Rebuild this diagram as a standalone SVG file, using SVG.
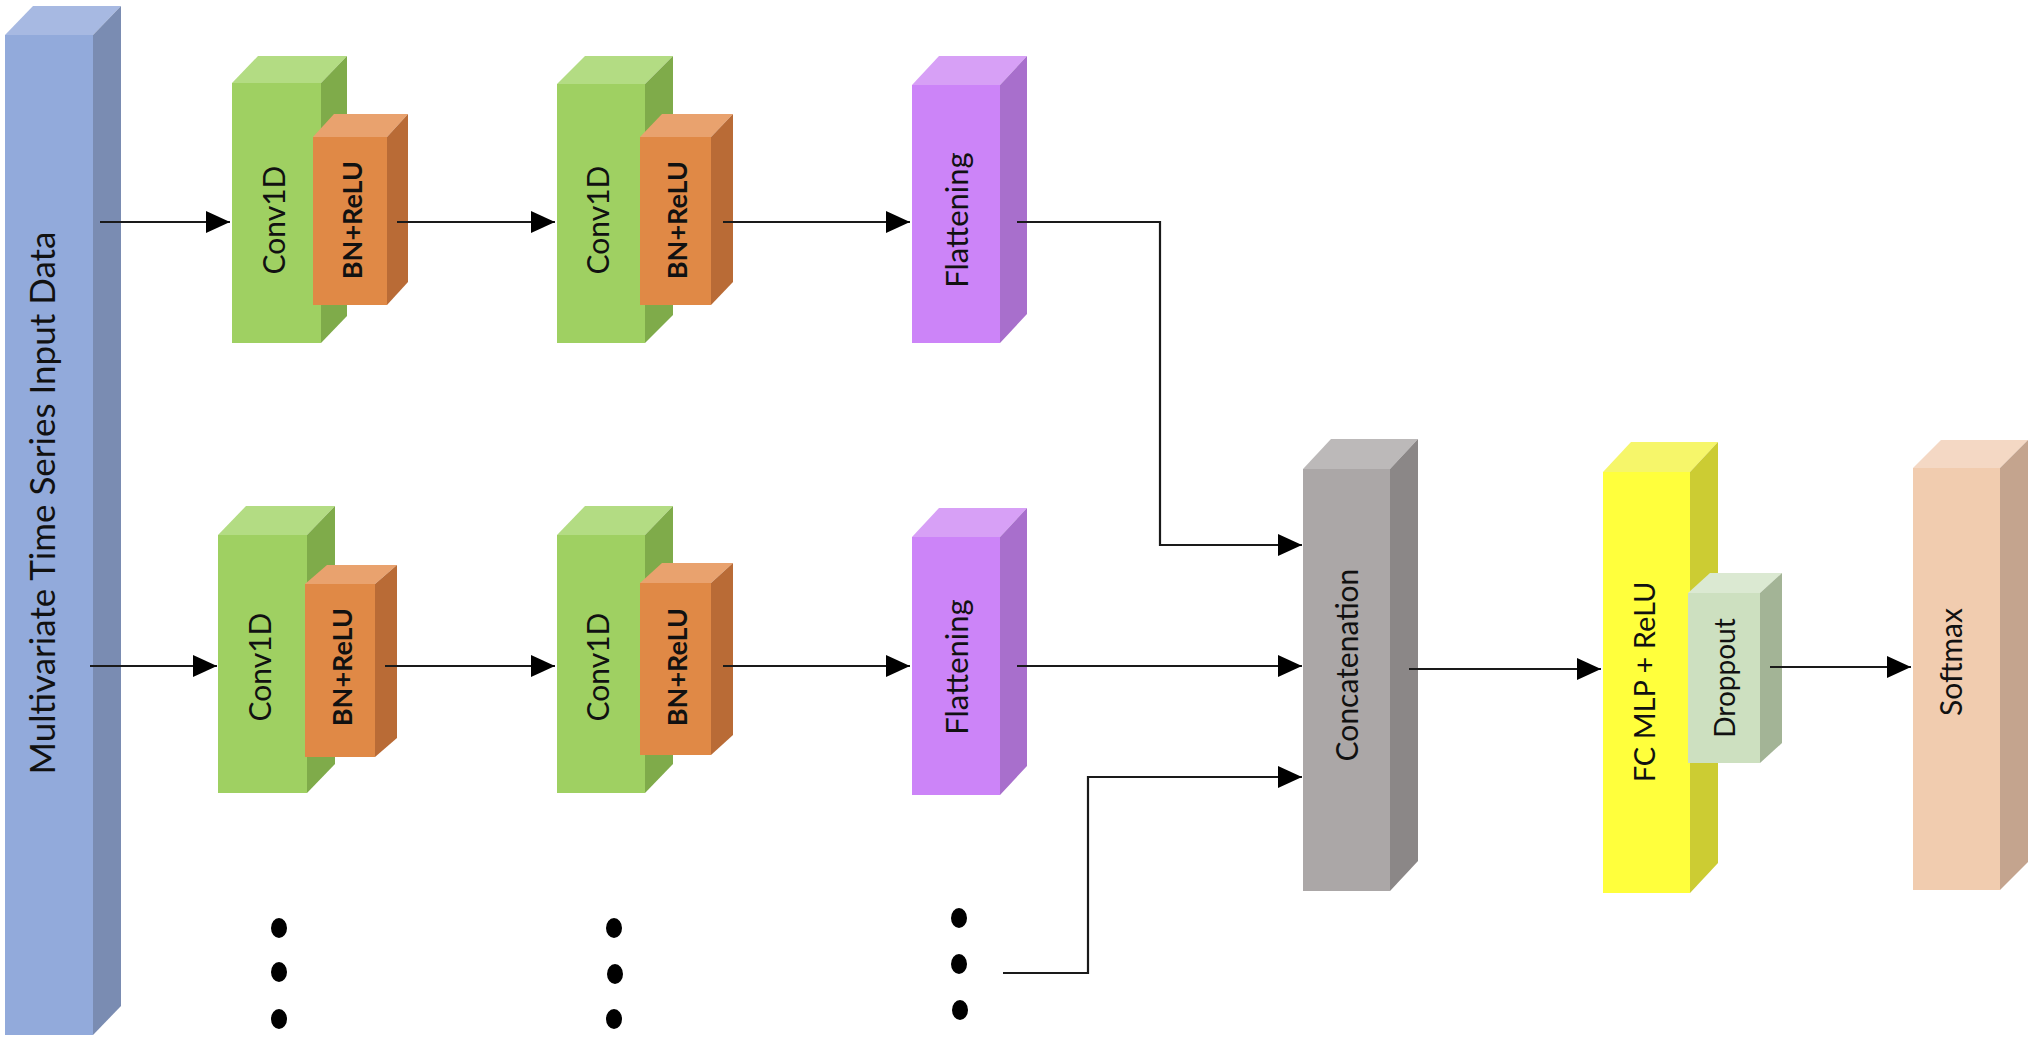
<svg xmlns="http://www.w3.org/2000/svg" width="2040" height="1050" viewBox="0 0 2040 1050">
<defs>
<style>
text{font-family:Lato,"Open Sans","Liberation Sans",sans-serif;fill:#111;text-anchor:middle;dominant-baseline:central}
.lbl{font-size:30px}
.bn{font-size:27px;font-weight:bold}
.conn{fill:none;stroke:#1a1a1a;stroke-width:2.2}
.dot{fill:#000}
</style>
<marker id="ah" markerUnits="userSpaceOnUse" markerWidth="26" markerHeight="24" refX="24" refY="11" orient="auto">
<path d="M0,0 L24,11 L0,22 Z" fill="#000"/>
</marker>
</defs>
<rect width="2040" height="1050" fill="#fff"/>

<g id="input">
<polygon points="5,35 33,6 121,6 93,35" fill="#a7b9e2"/>
<polygon points="93,35 121,6 121,1006 93,1035" fill="#7a8cb2"/>
<rect x="5" y="35" width="88" height="1000" fill="#92aadb"/>
<text class="lbl" style="font-size:35px" transform="translate(41,503) rotate(-90)">Multivariate Time Series Input Data</text>
</g>

<g id="conv1a">
<polygon points="232,83 258,56 347,56 321,83" fill="#b3dc83"/>
<polygon points="321,83 347,56 347,316 321,343" fill="#7fab4a"/>
<rect x="232" y="83" width="89" height="260" fill="#9fd062"/>
<text class="lbl" transform="translate(273,220) rotate(-90)">Conv1D</text>
</g>
<g id="bn1a">
<polygon points="313,137 334,114 408,114 387,137" fill="#e9a26e"/>
<polygon points="387,137 408,114 408,282 387,305" fill="#b96b36"/>
<rect x="313" y="137" width="74" height="168" fill="#e08946"/>
<text class="bn" transform="translate(351,220) rotate(-90)">BN+ReLU</text>
</g>
<g id="conv1b">
<polygon points="557,84 585,56 673,56 645,84" fill="#b3dc83"/>
<polygon points="645,84 673,56 673,315 645,343" fill="#7fab4a"/>
<rect x="557" y="84" width="88" height="259" fill="#9fd062"/>
<text class="lbl" transform="translate(597,220) rotate(-90)">Conv1D</text>
</g>
<g id="bn1b">
<polygon points="640,137 662,114 733,114 711,137" fill="#e9a26e"/>
<polygon points="711,137 733,114 733,282 711,305" fill="#b96b36"/>
<rect x="640" y="137" width="71" height="168" fill="#e08946"/>
<text class="bn" transform="translate(676,220) rotate(-90)">BN+ReLU</text>
</g>
<g id="flat1">
<polygon points="912,85 939,56 1027,56 1000,85" fill="#d7a0f6"/>
<polygon points="1000,85 1027,56 1027,314 1000,343" fill="#a86fcc"/>
<rect x="912" y="85" width="88" height="258" fill="#cc84f8"/>
<text class="lbl" style="font-size:31px" transform="translate(956,220) rotate(-90)">Flattening</text>
</g>

<g id="conv2a">
<polygon points="218,535 246,506 335,506 307,535" fill="#b3dc83"/>
<polygon points="307,535 335,506 335,764 307,793" fill="#7fab4a"/>
<rect x="218" y="535" width="89" height="258" fill="#9fd062"/>
<text class="lbl" transform="translate(259,667) rotate(-90)">Conv1D</text>
</g>
<g id="bn2a">
<polygon points="305,584 327,565 397,565 375,584" fill="#e9a26e"/>
<polygon points="375,584 397,565 397,738 375,757" fill="#b96b36"/>
<rect x="305" y="584" width="70" height="173" fill="#e08946"/>
<text class="bn" transform="translate(341,667) rotate(-90)">BN+ReLU</text>
</g>
<g id="conv2b">
<polygon points="557,535 585,506 673,506 645,535" fill="#b3dc83"/>
<polygon points="645,535 673,506 673,764 645,793" fill="#7fab4a"/>
<rect x="557" y="535" width="88" height="258" fill="#9fd062"/>
<text class="lbl" transform="translate(597,667) rotate(-90)">Conv1D</text>
</g>
<g id="bn2b">
<polygon points="640,583 662,563 733,563 711,583" fill="#e9a26e"/>
<polygon points="711,583 733,563 733,735 711,755" fill="#b96b36"/>
<rect x="640" y="583" width="71" height="172" fill="#e08946"/>
<text class="bn" transform="translate(676,667) rotate(-90)">BN+ReLU</text>
</g>
<g id="flat2">
<polygon points="912,537 939,508 1027,508 1000,537" fill="#d7a0f6"/>
<polygon points="1000,537 1027,508 1027,766 1000,795" fill="#a86fcc"/>
<rect x="912" y="537" width="88" height="258" fill="#cc84f8"/>
<text class="lbl" style="font-size:31px" transform="translate(956,667) rotate(-90)">Flattening</text>
</g>

<g id="dots">
<ellipse class="dot" cx="279" cy="928" rx="8" ry="10"/>
<ellipse class="dot" cx="279" cy="972" rx="8" ry="10"/>
<ellipse class="dot" cx="279" cy="1019" rx="8" ry="10"/>
<ellipse class="dot" cx="614" cy="928" rx="8" ry="10"/>
<ellipse class="dot" cx="615" cy="974" rx="8" ry="10"/>
<ellipse class="dot" cx="614" cy="1019" rx="8" ry="10"/>
<ellipse class="dot" cx="959" cy="918" rx="8" ry="10"/>
<ellipse class="dot" cx="959" cy="964" rx="8" ry="10"/>
<ellipse class="dot" cx="960" cy="1010" rx="8" ry="10"/>
</g>

<g id="concat">
<polygon points="1303,469 1331,439 1418,439 1390,469" fill="#bcb9b9"/>
<polygon points="1390,469 1418,439 1418,861 1390,891" fill="#8b8787"/>
<rect x="1303" y="469" width="87" height="422" fill="#aba7a7"/>
<text class="lbl" transform="translate(1346,665) rotate(-90)">Concatenation</text>
</g>
<g id="fc">
<polygon points="1603,472 1631,442 1718,442 1690,472" fill="#f6f66a"/>
<polygon points="1690,472 1718,442 1718,863 1690,893" fill="#cccc33"/>
<rect x="1603" y="472" width="87" height="421" fill="#ffff3c"/>
<text class="lbl" style="font-size:29px" transform="translate(1643,682) rotate(-90)">FC MLP + ReLU</text>
</g>
<g id="dropout">
<polygon points="1688,593 1710,573 1782,573 1760,593" fill="#dbe9d2"/>
<polygon points="1760,593 1782,573 1782,743 1760,763" fill="#a3b496"/>
<rect x="1688" y="593" width="72" height="170" fill="#cde0c0"/>
<text class="lbl" style="font-size:28px" transform="translate(1724,678) rotate(-90)">Droppout</text>
</g>
<g id="softmax">
<polygon points="1913,468 1941,440 2028,440 2000,468" fill="#f4d8c4"/>
<polygon points="2000,468 2028,440 2028,862 2000,890" fill="#c4a48e"/>
<rect x="1913" y="468" width="87" height="422" fill="#f1ccaf"/>
<text class="lbl" transform="translate(1950,662) rotate(-90)">Softmax</text>
</g>

<g id="connectors">
<path class="conn" d="M100,222 H230" marker-end="url(#ah)"/>
<path class="conn" d="M397,222 H555" marker-end="url(#ah)"/>
<path class="conn" d="M723,222 H910" marker-end="url(#ah)"/>
<path class="conn" d="M1017,222 H1160 V545 H1302" marker-end="url(#ah)"/>
<path class="conn" d="M90,666 H217" marker-end="url(#ah)"/>
<path class="conn" d="M385,666 H555" marker-end="url(#ah)"/>
<path class="conn" d="M723,666 H910" marker-end="url(#ah)"/>
<path class="conn" d="M1017,666 H1302" marker-end="url(#ah)"/>
<path class="conn" d="M1003,973 H1088 V777 H1302" marker-end="url(#ah)"/>
<path class="conn" d="M1409,669 H1601" marker-end="url(#ah)"/>
<path class="conn" d="M1770,667 H1911" marker-end="url(#ah)"/>
</g>
</svg>
